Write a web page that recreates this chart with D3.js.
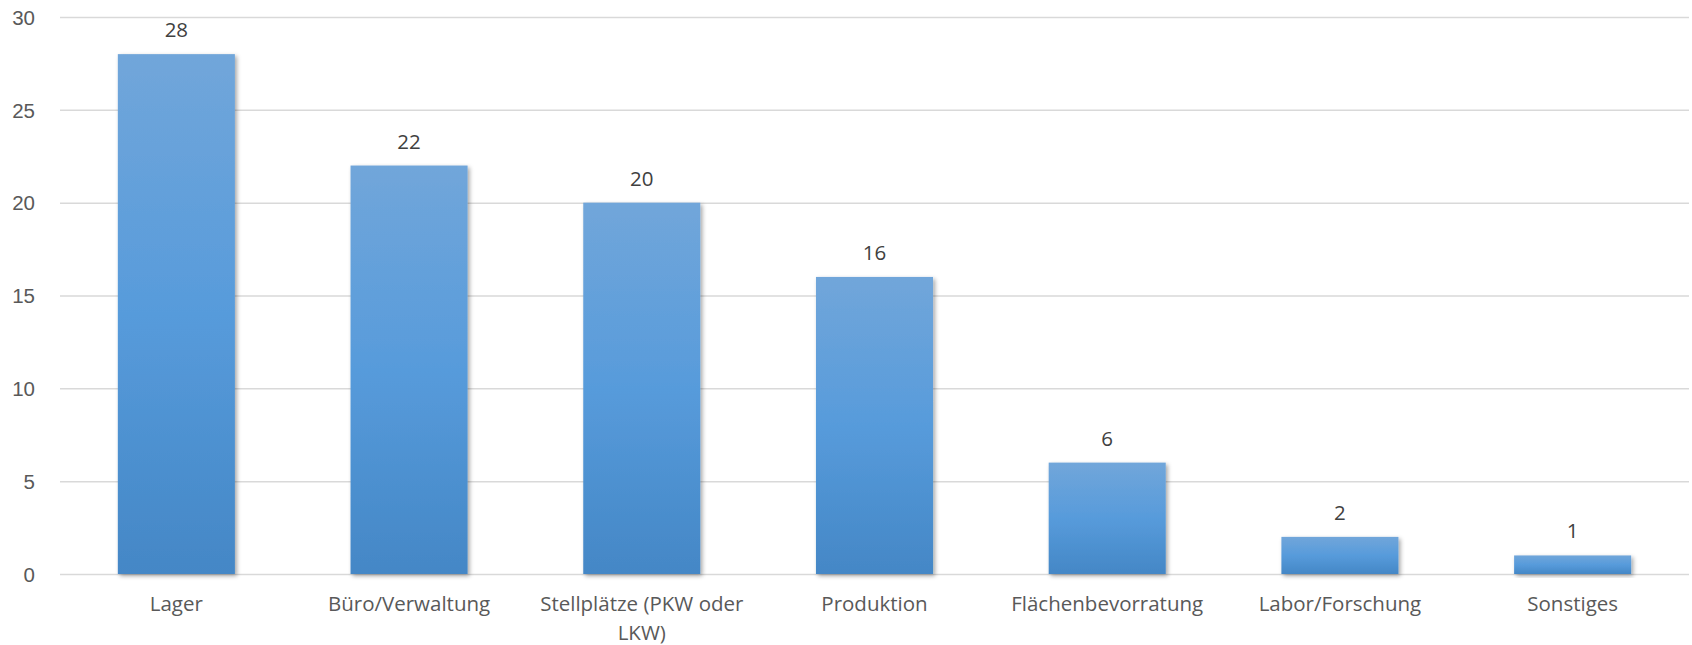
<!DOCTYPE html>
<html>
<head>
<meta charset="utf-8">
<script src="https://cdn.jsdelivr.net/npm/d3@7"></script>
<style>
  html, body { margin: 0; padding: 0; background: #fff; }
  svg { display: block; font-family: "Open Sans", sans-serif; }
</style>
</head>
<body>
<div id="chart"></div>
<script>
// Data
const categories = ["Lager", "Büro/Verwaltung", "Stellplätze (PKW oder LKW)", "Produktion",
                    "Flächenbevorratung", "Labor/Forschung", "Sonstiges"];
const values = [28, 22, 20, 16, 6, 2, 1];
const yTicks = [0, 5, 10, 15, 20, 25, 30];

const width = 1692;
const height = 645;
const margin = { top: 17, right: 3, bottom: 71, left: 60 };

const svg = d3.select("#chart").append("svg")
    .attr("width", width)
    .attr("height", height);

const defs = svg.append("defs");

// bar fill: lighter at the top, darker at the bottom
const grad = defs.append("linearGradient")
    .attr("id", "barGrad")
    .attr("x1", 0).attr("y1", 0).attr("x2", 0).attr("y2", 1);
grad.append("stop").attr("offset", "0%").attr("stop-color", "#71a6da");
grad.append("stop").attr("offset", "50%").attr("stop-color", "#579bdb");
grad.append("stop").attr("offset", "100%").attr("stop-color", "#4487c6");

const shadow = defs.append("filter")
    .attr("id", "barShadow")
    .attr("x", "-20%").attr("y", "-20%")
    .attr("width", "140%").attr("height", "140%");
shadow.append("feDropShadow")
    .attr("dx", 2).attr("dy", 2)
    .attr("stdDeviation", 2.2)
    .attr("flood-color", "#000")
    .attr("flood-opacity", 0.35);

const x = d3.scaleBand()
    .domain(categories)
    .range([margin.left, width - margin.right])
    .paddingInner(0.497)
    .paddingOuter(0.2485);

const y = d3.scaleLinear()
    .domain([0, 30])
    .range([height - margin.bottom, margin.top]);

// gridlines
const yAxis = d3.axisLeft(y)
    .tickValues(yTicks)
    .tickSize(-(width - margin.left - margin.right))
    .tickPadding(25);

const gy = svg.append("g")
    .attr("transform", `translate(${margin.left},0)`)
    .call(yAxis);
gy.select(".domain").remove();
gy.selectAll(".tick line")
    .attr("stroke", "#d9d9d9")
    .attr("stroke-width", 1.5);
gy.selectAll(".tick text")
    .attr("fill", "#595959")
    .style("font-size", "20.5px")
    .attr("dy", "0.35em");

// bars
svg.append("g")
    .selectAll("rect")
    .data(values)
    .join("rect")
    .attr("x", (d, i) => x(categories[i]))
    .attr("y", d => y(d))
    .attr("width", x.bandwidth())
    .attr("height", d => y(0) - y(d))
    .attr("fill", "url(#barGrad)")
    .attr("filter", "url(#barShadow)");

// value labels
svg.append("g")
    .selectAll("text")
    .data(values)
    .join("text")
    .attr("x", (d, i) => x(categories[i]) + x.bandwidth() / 2)
    .attr("y", d => y(d) - 17)
    .attr("text-anchor", "middle")
    .attr("fill", "#404040")
    .style("font-size", "20.5px")
    .text(d => d);

// category labels, wrapped to the band width
function wrapLabel(textSel, maxWidth) {
    textSel.each(function () {
        const text = d3.select(this);
        const words = text.text().split(/\s+/);
        const xPos = text.attr("x");
        text.text(null);
        let line = [];
        let tspan = text.append("tspan").attr("x", xPos).attr("dy", 0);
        words.forEach(w => {
            line.push(w);
            tspan.text(line.join(" "));
            if (tspan.node().getComputedTextLength() > maxWidth && line.length > 1) {
                line.pop();
                tspan.text(line.join(" "));
                line = [w];
                tspan = text.append("tspan")
                    .attr("x", xPos)
                    .attr("dy", "1.4em")
                    .text(w);
            }
        });
    });
}

const step = x.step();
svg.append("g")
    .selectAll("text")
    .data(categories)
    .join("text")
    .attr("x", d => x(d) + x.bandwidth() / 2)
    .attr("y", y(0) + 37)
    .attr("text-anchor", "middle")
    .attr("fill", "#595959")
    .style("font-size", "20.5px")
    .text(d => d)
    .call(wrapLabel, step - 10);
</script>
</body>
</html>
